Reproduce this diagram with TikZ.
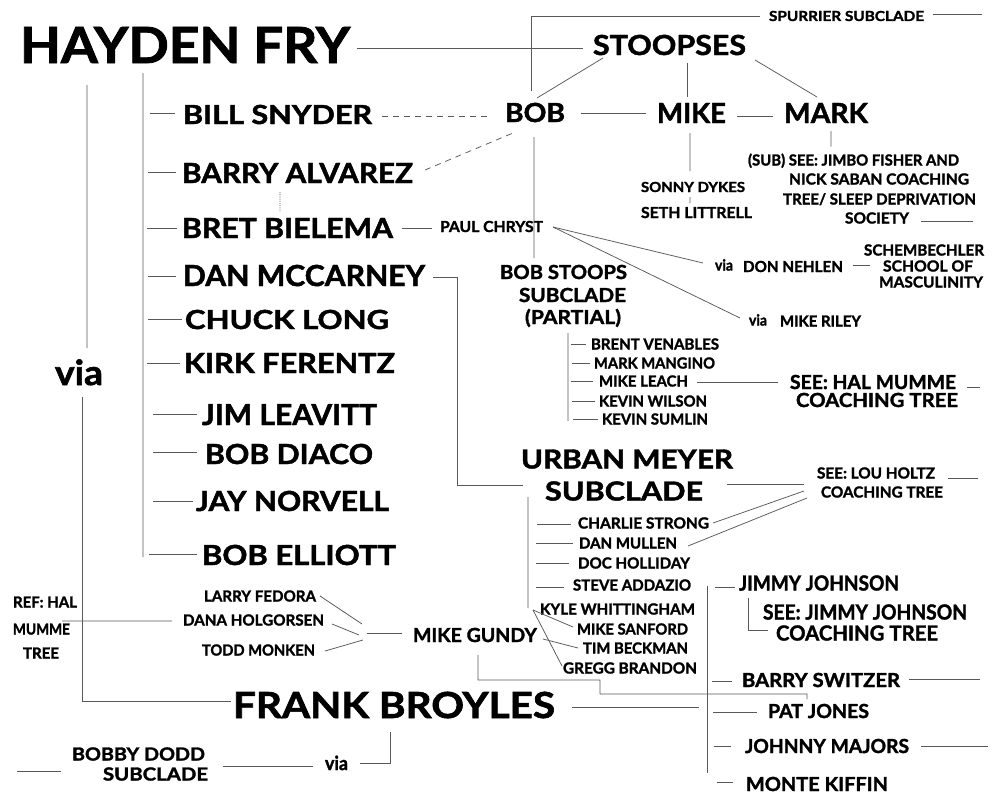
\documentclass[tikz,border=0pt]{standalone}
\usepackage{fontspec}
\usepackage{graphicx}
\setmainfont{Lato}[BoldFeatures={FakeBold=1.6}]
\usetikzlibrary{calc}
\newcommand\T[3]{\resizebox{#1pt}{#2pt}{\raisebox{0pt}[\fontcharht\font`H][0pt]{#3}}}
\tikzset{
  lbl/.style={anchor=west, inner sep=0pt, outer sep=0pt, font=\bfseries, text=black},
  ln/.style={draw=black!65, line width=0.75pt},
  dl/.style={ln, dash pattern=on 6pt off 5pt},
  dt/.style={ln, dash pattern=on 1pt off 1.2pt}
}
\begin{document}
\begin{tikzpicture}[x=1pt,y=-1pt]
\fill[white] (0,0) rectangle (1000,800);
\useasboundingbox (0,0) rectangle (1000,800);
% ---------- nodes ----------
\node[lbl] (hf) at (20,45) {\T{330}{36}{HAYDEN FRY}};
\node[lbl] (st) at (593,45) {\T{153}{20}{STOOPSES}};
\node[lbl] (bob) at (505,112.5) {\T{60}{19}{BOB}};
\node[lbl] (mike) at (657,113) {\T{69}{20}{MIKE}};
\node[lbl] (mark) at (784,113) {\T{84}{20}{MARK}};
\node[lbl] (spur) at (769,16) {\T{155}{10}{SPURRIER SUBCLADE}};
\node[lbl] (sonny) at (641,187) {\T{104}{10}{SONNY DYKES}};
\node[lbl] (seth) at (641,212.5) {\T{111}{11}{SETH LITTRELL}};
\node[lbl] (j1) at (748,160) {\T{211}{11}{(SUB) SEE: JIMBO FISHER AND}};
\node[lbl] (j2) at (789,179) {\T{180}{11}{NICK SABAN COACHING}};
\node[lbl] (j3) at (783,199) {\T{193}{11}{TREE/ SLEEP DEPRIVATION}};
\node[lbl] (j4) at (845,218) {\T{64}{11}{SOCIETY}};
\node[lbl] (bs) at (183,114.5) {\T{189}{19}{BILL SNYDER}};
\node[lbl] (ba) at (182,173) {\T{231}{20}{BARRY ALVAREZ}};
\node[lbl] (bb) at (182,228) {\T{211}{20}{BRET BIELEMA}};
\node[lbl] (dm) at (183,275.5) {\T{242}{21}{DAN MCCARNEY}};
\node[lbl] (cl) at (185,319.5) {\T{204}{19}{CHUCK LONG}};
\node[lbl] (kf) at (184,363) {\T{211}{20}{KIRK FERENTZ}};
\node[lbl] (jl) at (202,414.5) {\T{175}{21}{JIM LEAVITT}};
\node[lbl] (bd) at (205,454) {\T{168}{20}{BOB DIACO}};
\node[lbl] (jn) at (196,501) {\T{193}{20}{JAY NORVELL}};
\node[lbl] (be) at (202,555) {\T{194}{20}{BOB ELLIOTT}};
\node[lbl] (via1) at (55,372.5) {\T{48}{25}{via}};
\node[lbl] (pc) at (440,226.5) {\T{103}{11}{PAUL CHRYST}};
\node[lbl] (bst1) at (500,272) {\T{127}{14}{BOB STOOPS}};
\node[lbl] (bst2) at (519,295) {\T{107}{14}{SUBCLADE}};
\node[lbl] (bst3) at (525,317) {\T{96}{14}{(PARTIAL)}};
\node[lbl] (via2) at (715,265) {\T{18}{11}{via}};
\node[lbl] (dn) at (743,266.5) {\T{100}{11}{DON NEHLEN}};
\node[lbl] (sch1) at (864,250) {\T{120}{11}{SCHEMBECHLER}};
\node[lbl] (sch2) at (883,266) {\T{90}{11}{SCHOOL OF}};
\node[lbl] (sch3) at (879,282) {\T{104}{11}{MASCULINITY}};
\node[lbl] (via3) at (749,320) {\T{18}{11}{via}};
\node[lbl] (mr) at (780,321) {\T{81}{11}{MIKE RILEY}};
\node[lbl] (bv) at (591,344) {\T{128}{11}{BRENT VENABLES}};
\node[lbl] (mm) at (594,363) {\T{121}{11}{MARK MANGINO}};
\node[lbl] (ml) at (599,381) {\T{89}{11}{MIKE LEACH}};
\node[lbl] (kw) at (599,401) {\T{108}{11}{KEVIN WILSON}};
\node[lbl] (ks) at (602,419) {\T{106}{11}{KEVIN SUMLIN}};
\node[lbl] (hal1) at (790,382) {\T{166}{14}{SEE: HAL MUMME}};
\node[lbl] (hal2) at (796,400) {\T{162}{14}{COACHING TREE}};
\node[lbl] (um1) at (521,459) {\T{212}{19}{URBAN MEYER}};
\node[lbl] (um2) at (545,491) {\T{158}{19}{SUBCLADE}};
\node[lbl] (lh1) at (817,473) {\T{118}{11}{SEE: LOU HOLTZ}};
\node[lbl] (lh2) at (821,492) {\T{122}{11}{COACHING TREE}};
\node[lbl] (cs) at (578,523) {\T{131}{11}{CHARLIE STRONG}};
\node[lbl] (dmu) at (579,543) {\T{98}{11}{DAN MULLEN}};
\node[lbl] (dh) at (578,563) {\T{112}{11}{DOC HOLLIDAY}};
\node[lbl] (sa) at (573,585) {\T{118}{11}{STEVE ADDAZIO}};
\node[lbl] (kyw) at (540,609) {\T{155}{11}{KYLE WHITTINGHAM}};
\node[lbl] (ms) at (577,629) {\T{111}{11}{MIKE SANFORD}};
\node[lbl] (tb) at (583,648) {\T{105}{11}{TIM BECKMAN}};
\node[lbl] (gb) at (563,668) {\T{134}{11}{GREGG BRANDON}};
\node[lbl] (jj) at (739,583) {\T{160}{15}{JIMMY JOHNSON}};
\node[lbl] (jjc1) at (763,612) {\T{204}{15}{SEE: JIMMY JOHNSON}};
\node[lbl] (jjc2) at (776,633) {\T{162}{15}{COACHING TREE}};
\node[lbl] (bsw) at (742,680) {\T{158}{14}{BARRY SWITZER}};
\node[lbl] (pj) at (768,711) {\T{101}{14}{PAT JONES}};
\node[lbl] (jm) at (745,746) {\T{164}{14}{JOHNNY MAJORS}};
\node[lbl] (mk) at (746,784) {\T{142}{14}{MONTE KIFFIN}};
\node[lbl] (mg) at (413,635) {\T{124}{14}{MIKE GUNDY}};
\node[lbl] (lf) at (204,596) {\T{112}{11}{LARRY FEDORA}};
\node[lbl] (dho) at (183,620) {\T{141}{11}{DANA HOLGORSEN}};
\node[lbl] (tm) at (202,650) {\T{113}{11}{TODD MONKEN}};
\node[lbl] (ref1) at (13,602) {\T{64}{11}{REF: HAL}};
\node[lbl] (ref2) at (13,629) {\T{57}{11}{MUMME}};
\node[lbl] (ref3) at (23,653) {\T{36}{11}{TREE}};
\node[lbl] (fb) at (233,705) {\T{322}{26}{FRANK BROYLES}};
\node[lbl] (bdd1) at (72,754) {\T{133}{13}{BOBBY DODD}};
\node[lbl] (bdd2) at (103,774) {\T{105}{13}{SUBCLADE}};
\node[lbl] (via4) at (325,763) {\T{23}{14}{via}};
% ---------- connectors ----------
\draw[ln] ($(hf.east)+(7,3)$) -- ($(st.west)+(-10,3)$);
\draw[ln] ($(spur.west)+(-9,0)$) -| ($(bob.north)+(-4,-12)$);
\draw[ln] ($(spur.east)+(9,-2)$) -- ++(49,0);
\draw[ln] ($(st.south west)+(10,3)$) -- ($(bob.north)+(2,-5)$);
\draw[ln] ($(mike.north)+(-4.5,-40)$) -- ($(mike.north)+(-4.5,-6)$);
\draw[ln] ($(st.south east)+(9,5)$) -- ($(mark.north)+(-9,-6)$);
\draw[ln] ($(bob.east)+(16,0.5)$) -- ($(mike.west)+(-11,0)$);
\draw[ln] ($(mike.east)+(11,3)$) -- ($(mark.west)+(-11,3)$);
\draw[ln] ($(mike.south)+(-1.5,10)$) -- ($(sonny.north)+(-3,-11)$);
\draw[ln] ($(sonny.south)+(-3,5)$) -- ($(seth.north)+(-6.5,-4)$);
\draw[ln] ($(mark.south)+(5,8)$) -- ($(j1.north)+(-22.5,-8)$);
\draw[ln] ($(j4.east)+(12,3)$) -- ++(52,0);
\draw[dl] ($(bs.east)+(10,1.5)$) -- ($(bob.west)+(-13,3.5)$);
\draw[dl] ($(ba.east)+(12,-3)$) -- ($(bob.south west)+(8,11)$);
\draw[dt] ($(ba.south)+(-17.5,9)$) -- ($(bb.north)+(-7.5,-6)$);
\draw[ln] ($(bb.east)+(9,0)$) -- ($(pc.west)+(-8,1.5)$);
\draw[ln] ($(bob.south)+(-1,15)$) -- ($(bst1.north)+(-29.5,-7)$);
\draw[ln] ($(pc.east)+(10,0.5)$) -- ($(via2.west)+(-12,-2)$);
\draw[ln] ($(pc.east)+(10,0.5)$) -- ($(via3.west)+(-9,-2)$);
\draw[ln] ($(dn.east)+(10,-1.5)$) -- ($(sch2.west)+(-13,-1)$);
\draw[ln] ($(bst3.south)+(-5,9)$) -- ($(ks.west)+(-34,2)$);
\draw[ln] ($(bv.west)+(-20,0)$) -- ($(bv.west)+(-5,0)$);
\draw[ln] ($(mm.west)+(-22,0)$) -- ($(mm.west)+(-4,0)$);
\draw[ln] ($(ml.west)+(-28,0)$) -- ($(ml.west)+(-6,0)$);
\draw[ln] ($(kw.west)+(-27,0)$) -- ($(kw.west)+(-4,0)$);
\draw[ln] ($(ks.west)+(-29,0)$) -- ($(ks.west)+(-4,0)$);
\draw[ln] ($(ml.east)+(9,1)$) -- ($(hal1.west)+(-12,0)$);
\draw[ln] ($(hal1.east)+(11,5)$) -- ++(13,0);
\draw[ln] ($(dm.east)+(8,1.5)$) -- ($(dm.east)+(32,1.5)$) |- ($(um2.west)+(-22,-6)$);
\draw[ln] ($(um2.east)+(24,-7)$) -- ($(lh1.west)+(-13,11)$);
\draw[ln] ($(lh1.east)+(13,5)$) -- ++(30,0);
\draw[ln] ($(lh2.west)+(-17,-1)$) -- ($(cs.east)+(4,0)$);
\draw[ln] ($(lh2.west)+(-14,6)$) -- ($(dmu.east)+(11,3)$);
\draw[ln] ($(um2.south)+(-96,-3.5)$) -- ($(kyw.west)+(-12,-1)$);
\draw[ln] ($(cs.west)+(-41,1)$) -- ($(cs.west)+(-7,1)$);
\draw[ln] ($(dmu.west)+(-43,0)$) -- ($(dmu.west)+(-6,0)$);
\draw[ln] ($(dh.west)+(-42,0)$) -- ($(dh.west)+(-9,0)$);
\draw[ln] ($(sa.west)+(-37,2)$) -- ($(sa.west)+(-9,2)$);
\draw[ln] ($(kyw.west)+(-7,1)$) -- ($(ms.west)+(-4,-2)$);
\draw[ln] ($(kyw.west)+(-7,1)$) -- ($(gb.west)+(-1,-2)$);
\draw[ln] ($(mg.east)+(6,4)$) -- ($(tb.west)+(-5,0)$);
\draw[ln] ($(jj.west)+(-24,4)$) -- ($(jj.west)+(-4,4)$);
\draw[ln] ($(jj.west)+(-32,3)$) -- ($(mk.west)+(-39,-11)$);
\draw[ln] ($(jj.south west)+(9,7.5)$) |- ($(jjc2.west)+(-8,-3)$);
\draw[ln] ($(bsw.west)+(-30,1)$) -- ($(bsw.west)+(-10,1)$);
\draw[ln] ($(bsw.east)+(9,-1)$) -- ++(71,0);
\draw[ln] ($(pj.west)+(-55,1)$) -- ($(pj.west)+(-11,1)$);
\draw[ln] ($(jm.west)+(-31,0)$) -- ($(jm.west)+(-14,0)$);
\draw[ln] ($(jm.east)+(12,0)$) -- ++(67,0);
\draw[ln] ($(mk.west)+(-29,-2)$) -- ($(mk.west)+(-13,-2)$);
\draw[ln] ($(fb.east)+(17,2)$) -- ++(127,0);
\draw[ln] ($(mg.south)+(3,13)$) -- ++(0,25) -- ++(122,0) -- ++(0,14) -- ++(207,0) -- ($(pj.north)+(-11.5,-5)$);
\draw[ln] ($(lf.east)+(4,0)$) -- ($(mg.west)+(-51,-11)$);
\draw[ln] ($(dho.east)+(8,4)$) -- ($(mg.west)+(-54,0)$);
\draw[ln] ($(tm.east)+(10,1)$) -- ($(mg.west)+(-50,5)$);
\draw[ln] ($(mg.west)+(-46,-2)$) -- ($(mg.west)+(-11,-2)$);
\draw[ln] ($(ref2.north)+(20.5,-2.5)$) -- ($(dho.west)+(-11,1)$);
\draw[ln] ($(hf.south)+(-98,22)$) -- ($(via1.north)+(8,-12)$);
\draw[ln] ($(via1.south)+(3,12)$) |- ($(fb.west)+(-2,-4)$);
\draw[ln] ($(hf.south)+(-42,10)$) -- ($(be.west)+(-59,2)$);
\draw[ln] ($(bs.west)+(-33,-1.5)$) -- ($(bs.west)+(-8,-1.5)$);
\draw[ln] ($(ba.west)+(-34,-1)$) -- ($(ba.west)+(-6,-1)$);
\draw[ln] ($(bb.west)+(-35,0)$) -- ($(bb.west)+(-5,0)$);
\draw[ln] ($(dm.west)+(-35,0.5)$) -- ($(dm.west)+(-7,0.5)$);
\draw[ln] ($(cl.west)+(-37,-0.5)$) -- ($(cl.west)+(-3,-0.5)$);
\draw[ln] ($(kf.west)+(-37,0)$) -- ($(kf.west)+(-4,0)$);
\draw[ln] ($(jl.west)+(-49,-0.5)$) -- ($(jl.west)+(-5,-0.5)$);
\draw[ln] ($(bd.west)+(-52,-2)$) -- ($(bd.west)+(-8,-2)$);
\draw[ln] ($(jn.west)+(-43,0)$) -- ($(jn.west)+(-3,0)$);
\draw[ln] ($(be.west)+(-53,-1)$) -- ($(be.west)+(-5,-1)$);
\draw[ln] ($(bdd2.west)+(-86,-3)$) -- ($(bdd2.west)+(-42,-3)$);
\draw[ln] ($(bdd2.east)+(15,-8)$) -- ($(via4.west)+(-12,3)$);
\draw[ln] ($(via4.east)+(12,0)$) -| ($(fb.south)+(-4,14)$);
\end{tikzpicture}
\end{document}
